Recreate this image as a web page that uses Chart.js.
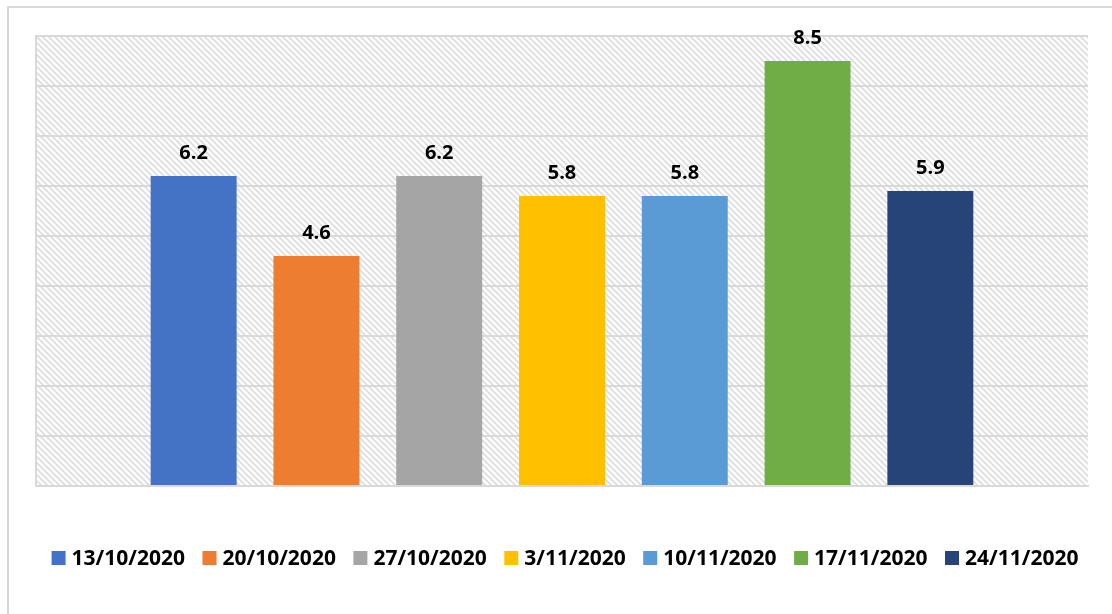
<!DOCTYPE html>
<html>
<head>
<meta charset="utf-8">
<script src="https://cdn.jsdelivr.net/npm/chart.js@4.4.0/dist/chart.umd.min.js"></script>
<style>
  html, body { margin: 0; padding: 0; background: #fff; }
  #wrap { position: relative; width: 1112px; height: 614px; overflow: hidden; }
  #frame { position: absolute; left: 7px; top: 6px; width: 1200px; height: 700px;
           border-left: 2px solid #d9d9d9; border-top: 2px solid #d9d9d9; box-sizing: border-box; }
  canvas { position: absolute; left: 0; top: 0; }
</style>
</head>
<body>
<div id="wrap">
  <div id="frame"></div>
  <canvas id="chart" width="1112" height="614"></canvas>
</div>
<script>
// --- data ---
const weeks = ["13/10/2020", "20/10/2020", "27/10/2020", "3/11/2020", "10/11/2020", "17/11/2020", "24/11/2020"];
const values = [6.2, 4.6, 6.2, 5.8, 5.8, 8.5, 5.9];
const colors = ["#4472C4", "#ED7D31", "#A5A5A5", "#FFC000", "#5B9BD5", "#70AD47", "#264478"];

const FONT = "'Open Sans', 'Liberation Sans', sans-serif";

// diagonal hatch used as plot background
function makeHatch() {
  const c = document.createElement("canvas");
  c.width = 6; c.height = 6;
  const g = c.getContext("2d");
  g.fillStyle = "#fff";
  g.fillRect(0, 0, 6, 6);
  g.strokeStyle = "#dcdcdc";
  g.lineWidth = 1.6;
  g.beginPath();
  g.moveTo(-1, -1); g.lineTo(7, 7);
  g.moveTo(-1, 5); g.lineTo(1, 7);
  g.moveTo(5, -1); g.lineTo(7, 1);
  g.stroke();
  return g.createPattern(c, "repeat");
}

const hatchBg = {
  id: "hatchBg",
  beforeDraw(chart) {
    const { ctx, chartArea: a } = chart;
    ctx.save();
    ctx.fillStyle = makeHatch();
    ctx.fillRect(a.left, a.top, a.right - a.left, a.bottom - a.top);
    ctx.restore();
  }
};

// value labels above each bar
const valueLabels = {
  id: "valueLabels",
  afterDatasetsDraw(chart) {
    const ctx = chart.ctx;
    ctx.save();
    ctx.font = "bold 20px " + FONT;
    ctx.fillStyle = "#000";
    ctx.textAlign = "center";
    ctx.textBaseline = "bottom";
    chart.data.datasets.forEach((ds, i) => {
      const bar = chart.getDatasetMeta(i).data[0];
      ctx.fillText(ds.data[0].toFixed(1), bar.x, bar.y - 13);
    });
    ctx.restore();
  }
};

// legend in one row, tighter than the built-in one
const rowLegend = {
  id: "rowLegend",
  afterDraw(chart) {
    const ctx = chart.ctx;
    const box = 14, gap = 6, spacing = 17.5, cy = 558;
    ctx.save();
    ctx.font = "bold 21px " + FONT;
    ctx.textBaseline = "middle";
    ctx.textAlign = "left";
    const items = chart.data.datasets.map(ds => ({
      text: ds.label, color: ds.backgroundColor, w: ctx.measureText(ds.label).width
    }));
    const total = items.reduce((s, it) => s + box + gap + it.w, 0) + spacing * (items.length - 1);
    let x = (chart.width - total) / 2 + 9;
    items.forEach(it => {
      ctx.fillStyle = it.color;
      ctx.fillRect(x, cy - box / 2, box, box);
      ctx.fillStyle = "#000";
      ctx.fillText(it.text, x + box + gap, cy + 1);
      x += box + gap + it.w + spacing;
    });
    ctx.restore();
  }
};

const datasets = weeks.map((w, i) => ({
  label: w,
  data: [values[i]],
  backgroundColor: colors[i],
  borderWidth: 0,
  categoryPercentage: 0.817,
  barPercentage: 0.70
}));

new Chart(document.getElementById("chart"), {
  type: "bar",
  data: { labels: [""], datasets: datasets },
  options: {
    responsive: false,
    animation: false,
    layout: { padding: { left: 36, right: 24, top: 36, bottom: 120 } },
    scales: {
      x: {
        ticks: { display: false },
        grid: { display: false },
        border: { display: true, color: "#d9d9d9", width: 2 }
      },
      y: {
        min: 0, max: 9,
        ticks: { display: false, stepSize: 1 },
        grid: { color: "#d9d9d9", lineWidth: 2, drawTicks: false },
        border: { display: true, color: "#d9d9d9", width: 2 }
      }
    },
    plugins: {
      tooltip: { enabled: false },
      legend: { display: false }
    }
  },
  plugins: [hatchBg, valueLabels, rowLegend]
});
</script>
</body>
</html>
